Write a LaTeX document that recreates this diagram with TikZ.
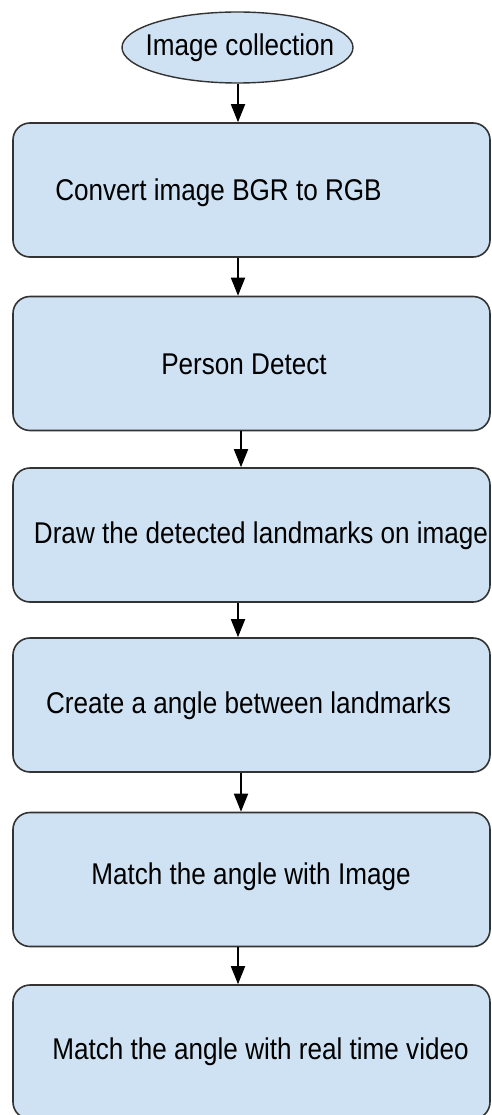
\documentclass[tikz,border=0pt]{standalone}
\usepackage{fontspec}
\setmainfont{Liberation Sans}[FakeStretch=0.87]
\usetikzlibrary{arrows.meta,shapes.geometric}
\definecolor{boxfill}{HTML}{CFE2F3}
\definecolor{boxline}{HTML}{333333}
\tikzset{
  stepbox/.style={draw=boxline, line width=1.6pt, fill=boxfill, rounded corners=17pt,
    minimum width=477pt, minimum height=134pt, inner sep=0pt},
  startnode/.style={ellipse, draw=boxline, line width=1.4pt, fill=boxfill,
    minimum width=231pt, minimum height=71pt, inner sep=0pt},
  lbl/.style={font=\fontsize{30}{36}\selectfont, inner sep=0pt, text=black},
  flow/.style={line width=1.8pt, -{Triangle[length=18pt,width=14pt]}}
}
\begin{document}
\begin{tikzpicture}[x=1pt,y=-1pt]
\useasboundingbox (0,0) rectangle (491,1115);
\node[startnode] (s) at (237.5,47.5) {};
\node[lbl] (st) at (240,48) {Image collection};
\node[stepbox] (b1) at (251.5,190) {};
\node[lbl] (t1) at (218.5,193) {Convert image BGR to RGB};
\node[stepbox] (b2) at (251.5,363.5) {};
\node[lbl] (t2) at (244,364) {Person Detect};
\node[stepbox] (b3) at (251.5,535) {};
\node[lbl] (t3) at (261,536) {Draw the detected landmarks on image};
\node[stepbox] (b4) at (251.5,705) {};
\node[lbl] (t4) at (248.5,706) {Create a angle between landmarks};
\node[stepbox] (b5) at (251.5,879.5) {};
\node[lbl] (t5) at (251,877) {Match the angle with Image};
\node[stepbox] (b6) at (251.5,1052) {};
\node[lbl] (t6) at (260.5,1052) {Match the angle with real time video};
\draw[flow] (s.south -| 238,0) -- (b1.north -| 238,0);
\draw[flow] (b1.south -| 238,0) -- (b2.north -| 238,0);
\draw[flow] (b2.south -| 241,0) -- (b3.north -| 241,0);
\draw[flow] (b3.south -| 238,0) -- (b4.north -| 238,0);
\draw[flow] (b4.south -| 241,0) -- (b5.north -| 241,0);
\draw[flow] (b5.south -| 238,0) -- (b6.north -| 238,0);
\end{tikzpicture}
\end{document}
